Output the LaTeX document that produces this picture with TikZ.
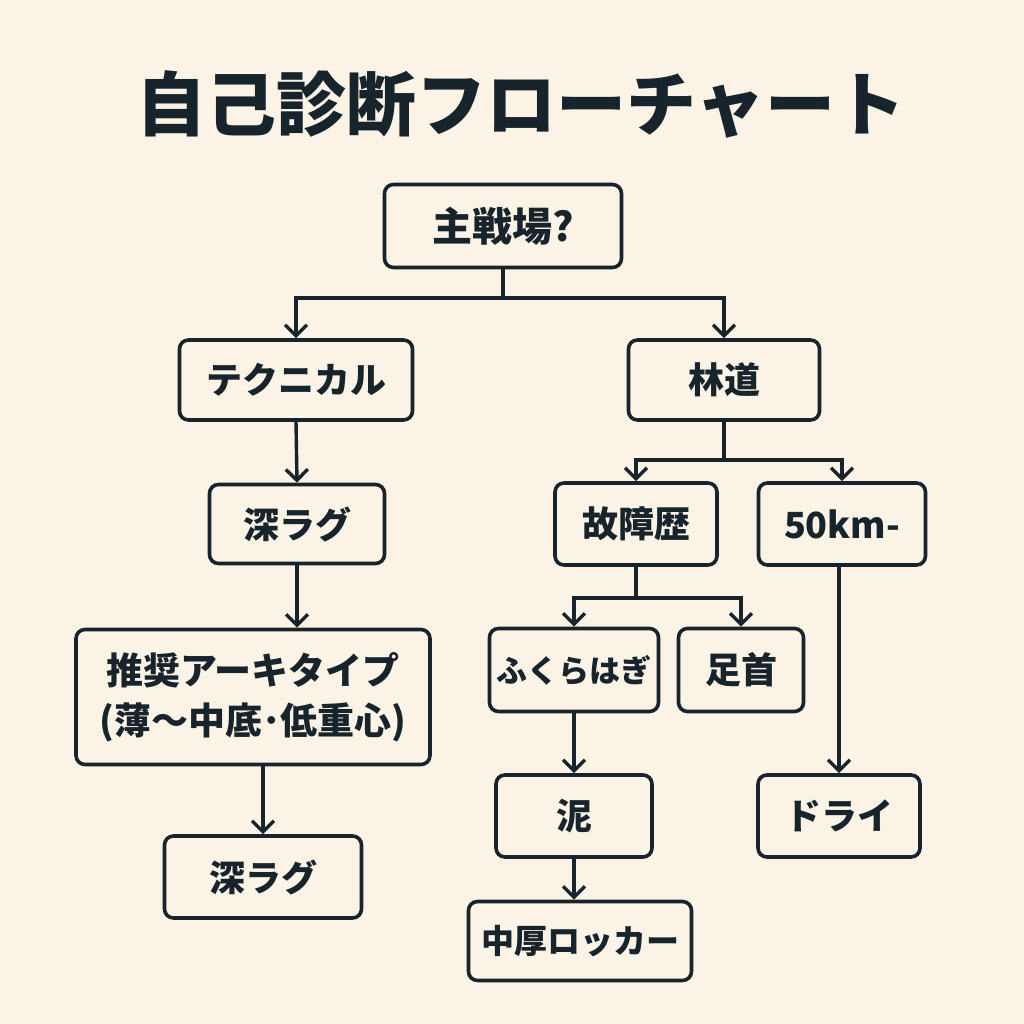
\documentclass[tikz,border=0pt]{standalone}
\usepackage{fontspec}
\newfontfamily\jp{Noto Sans CJK JP}
\usetikzlibrary{arrows.meta}
\definecolor{bgc}{RGB}{250,243,230}
\definecolor{ink}{RGB}{24,36,44}
\tikzset{
  box/.style={draw=ink, line width=3.6pt, rounded corners=9pt, fill=bgc, text=ink,
    font=\jp\bfseries\fontsize{36}{44}\selectfont, inner sep=0pt, align=center},
  conn/.style={draw=ink, line width=3.4pt},
  arr/.style={conn, -{Straight Barb[length=11pt,width=22pt,line width=3.4pt]}},
}
\begin{document}
\begin{tikzpicture}[x=1pt,y=-1pt]
\fill[bgc] (0,0) rectangle (1024,1024);
\useasboundingbox (0,0) rectangle (1024,1024);
\node[text=ink, font=\jp\bfseries\fontsize{70}{80}\selectfont, inner sep=0pt] (title) at (521,104) {自己診断フローチャート};

\node[box, minimum width=237pt, minimum height=83pt, font=\jp\bfseries\fontsize{40}{48}\selectfont] (q) at (503,226) {主戦場?};
\node[box, minimum width=233pt, minimum height=80pt] (tech) at (296,380) {テクニカル};
\node[box, minimum width=191pt, minimum height=80pt] (rin) at (724,380) {林道};
\node[box, minimum width=175pt, minimum height=79pt] (deep1) at (297,524) {深ラグ};
\node[box, minimum width=162pt, minimum height=82pt] (inj) at (636,524) {故障歴};
\node[box, minimum width=167pt, minimum height=82pt] (km) at (842,524) {50km-};
\node[box, minimum width=354pt, minimum height=135pt, font=\jp\bfseries\fontsize{37}{50}\selectfont] (rec) at (253,697) {推奨アーキタイプ\\(薄～中底･低重心)};
\node[box, minimum width=169pt, minimum height=83pt, font=\jp\bfseries\fontsize{31}{40}\selectfont] (calf) at (574,670) {ふくらはぎ};
\node[box, minimum width=125pt, minimum height=83pt] (ankle) at (741,670) {足首};
\node[box, minimum width=156pt, minimum height=82pt] (mud) at (574,816) {泥};
\node[box, minimum width=162pt, minimum height=82pt] (dry) at (839,816) {ドライ};
\node[box, minimum width=197pt, minimum height=82pt] (deep2) at (263,877) {深ラグ};
\node[box, minimum width=223pt, minimum height=79pt, font=\jp\bfseries\fontsize{33}{40}\selectfont] (rock) at (580,941) {中厚ロッカー};

\coordinate (j1) at (503,298);
\coordinate (j2) at (724,460);
\coordinate (j3) at (636,598);
\draw[conn] (q.south) -- (j1);
\draw[arr] (j1) -| (tech.north);
\draw[arr] (j1) -| (rin.north);
\draw[arr] (tech.south) -- (deep1.north);
\draw[conn] (rin.south) -- (j2);
\draw[arr] (j2) -| (inj.north);
\draw[arr] (j2) -| (km.north);
\draw[arr] (deep1.south) -- (deep1.south |- rec.north);
\draw[arr] (rec.south -| deep2.north) -- (deep2.north);
\draw[conn] (inj.south) -- (j3);
\draw[arr] (j3) -| (calf.north);
\draw[arr] (j3) -| (ankle.north);
\draw[arr] (km.south -| dry.north) -- (dry.north);
\draw[arr] (calf.south) -- (mud.north);
\draw[arr] (mud.south) -- (mud.south |- rock.north);
\end{tikzpicture}
\end{document}
